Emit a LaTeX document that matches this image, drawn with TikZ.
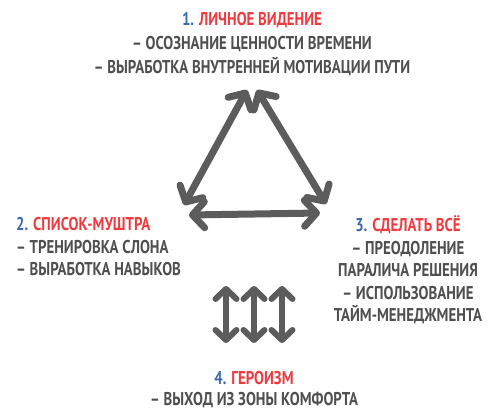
\documentclass[tikz,border=0pt]{standalone}
\usepackage{fontspec}
\setmainfont{PT Sans}[FakeStretch=0.8]
\usetikzlibrary{arrows.meta}
\definecolor{txt}{HTML}{4F4F4F}
\definecolor{ared}{HTML}{EE3B3F}
\definecolor{ablue}{HTML}{3A68B4}
\definecolor{arr}{HTML}{5C5C5C}
\tikzset{
  lbl/.style={text=txt, font=\bfseries\fontsize{18.5}{22.5}\selectfont, inner sep=0pt, align=center},
  dbl/.style={draw=arr, line width=7pt, line cap=round,
    {Straight Barb[round,length=12pt,width=26pt]}-{Straight Barb[round,length=12pt,width=26pt]}},
  vdbl/.style={draw=arr, line width=6pt, line cap=round,
    {Straight Barb[round,length=10pt,width=21pt]}-{Straight Barb[round,length=10pt,width=21pt]}}
}
\begin{document}
\begin{tikzpicture}[x=1pt,y=-1pt]
\useasboundingbox[fill=white] (0,0) rectangle (500,417);
% text blocks
\node[lbl, font=\bfseries\fontsize{18.5}{24}\selectfont] (t1) at (252,44) {{\color{ablue}1.} {\color{ared}ЛИЧНОЕ ВИДЕНИЕ}\\– ОСОЗНАНИЕ ЦЕННОСТИ ВРЕМЕНИ\\– ВЫРАБОТКА ВНУТРЕННЕЙ МОТИВАЦИИ ПУТИ};
\node[lbl, align=left, anchor=west] (t2) at (16,247) {{\color{ablue}2.} {\color{ared}СПИСОК-МУШТРА}\\– ТРЕНИРОВКА СЛОНА\\– ВЫРАБОТКА НАВЫКОВ};
\node[lbl] (t3) at (408,270) {{\color{ablue}3.} {\color{ared}СДЕЛАТЬ ВСЁ}\\– ПРЕОДОЛЕНИЕ\\ПАРАЛИЧА РЕШЕНИЯ\\– ИСПОЛЬЗОВАНИЕ\\ТАЙМ-МЕНЕДЖМЕНТА};
\node[lbl, font=\bfseries\fontsize{18.5}{21}\selectfont] (t4) at (254,390) {{\color{ablue}4.} {\color{ared}ГЕРОИЗМ}\\– ВЫХОД ИЗ ЗОНЫ КОМФОРТА};
% triangle arrow ends
\coordinate (aT) at (247,90);
\coordinate (aL) at (184,205);
\coordinate (bT) at (257,90);
\coordinate (bR) at (326,204);
\coordinate (cL) at (189,215);
\coordinate (cR) at (320,213);
\draw[dbl] (aL) -- (aT);
\draw[dbl] (bT) -- (bR);
\draw[dbl] (cL) -- (cR);
% vertical arrows
\foreach \i/\x in {1/226,2/254,3/282}{
  \coordinate (v\i t) at (\x,286);
  \coordinate (v\i b) at (\x,343);
  \draw[vdbl] (v\i t) -- (v\i b);
}
\end{tikzpicture}
\end{document}
